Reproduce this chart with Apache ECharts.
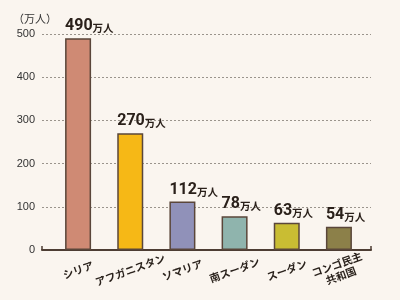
<!DOCTYPE html>
<html><head><meta charset="utf-8">
<script src="https://cdn.jsdelivr.net/npm/echarts@6/dist/echarts.min.js"></script>
<style>html,body{margin:0;padding:0;background:#faf5ef}#c{width:400px;height:300px}</style>
</head><body><div id="c"></div>
<script>
const categories = ['シリア', 'アフガニスタン', 'ソマリア', '南スーダン', 'スーダン', 'コンゴ民主\n共和国'];
const values = [490, 270, 112, 78, 63, 54];
const barColors = ['#cf8a74', '#f6b816', '#9091b9', '#8fb4ad', '#c9bd33', '#8c8049'];
const yTicks = [0, 100, 200, 300, 400, 500];
const unitName = '（万人）';
const unitSuffix = '万人';

const chart = echarts.init(document.getElementById('c'), null, {renderer: 'canvas'});
chart.setOption({
  backgroundColor: '#faf5ef',
  animation: false,
  title: {text: unitName, left: 8, top: 8, textStyle: {fontSize: 11, fontWeight: 'normal', color: '#333', fontFamily: 'Noto Sans CJK JP'}},
  grid: [
    {left: 42, right: 29, top: 34, bottom: 50},
    {left: 52, right: 35, top: 34, bottom: 50}
  ],
  xAxis: [
    {gridIndex: 0, type: 'category', data: [''], boundaryGap: true,
     axisLine: {lineStyle: {color: '#4d3d33', width: 2}},
     axisTick: {show: true, inside: true, length: 4, lineStyle: {color: '#4d3d33', width: 1.5}},
     axisLabel: {show: false}},
    {gridIndex: 1, type: 'category', data: categories,
     axisLine: {show: false}, axisTick: {show: false},
     axisLabel: {rotate: 20, align: 'center', verticalAlign: 'middle', margin: 20, interval: 0,
       fontSize: 10.5, color: '#2a221c', lineHeight: 12, fontFamily: 'Noto Sans CJK JP', fontWeight: 'bold'}}
  ],
  yAxis: [
    {gridIndex: 0, type: 'value', min: 0, max: 500, interval: 100,
     axisLine: {show: false}, axisTick: {show: false},
     axisLabel: {margin: 7, fontSize: 11, color: '#333', fontFamily: 'Liberation Sans',
       formatter: v => yTicks.includes(v) ? String(v) : ''},
     splitLine: {show: true, lineStyle: {type: [2, 2], color: '#9a948c', width: 1}}},
    {gridIndex: 1, type: 'value', min: 0, max: 500, interval: 100, show: false, splitLine: {show: false}}
  ],
  series: [{
    type: 'bar', xAxisIndex: 1, yAxisIndex: 1, barWidth: 26,
    data: values.map((v, i) => ({value: v, itemStyle: {color: barColors[i]}})),
    itemStyle: {borderColor: '#5a463a', borderWidth: 1.5},
    label: {show: true, position: [0, -4], align: 'left', verticalAlign: 'bottom',
      formatter: p => '{n|' + p.value + '}{u|' + unitSuffix + '}',
      rich: {
        n: {fontSize: 16, fontWeight: 'bold', color: '#2a201a', fontFamily: 'Roboto'},
        u: {fontSize: 10.5, color: '#2a201a', fontFamily: 'Noto Sans CJK JP', fontWeight: 'bold', padding: [4, 0, 0, 0]}
      }}
  }]
});
</script></body></html>
